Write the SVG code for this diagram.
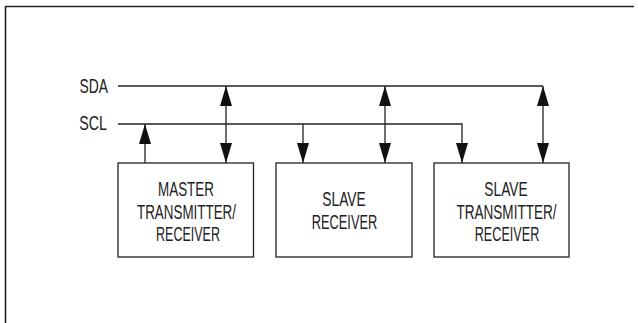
<svg xmlns="http://www.w3.org/2000/svg" width="638" height="323" viewBox="0 0 638 323">
<style>
.frame{fill:none;stroke:#222;stroke-width:1.6}
.box{fill:#fff;stroke:#222;stroke-width:1.3}
.wire{fill:none;stroke:#222;stroke-width:1.3}
.t{font-family:"Liberation Sans Narrow","Liberation Sans",Arial,sans-serif;font-size:21px;fill:#222;text-anchor:middle}
.lbl{text-anchor:end}
</style>
<defs>
<marker id="ah" markerUnits="userSpaceOnUse" markerWidth="20" markerHeight="12" refX="20" refY="6" orient="auto-start-reverse" viewBox="0 0 20 12">
<path d="M0,0 L20,6 L0,12 z" fill="#111"/>
</marker>
</defs>
<rect width="638" height="323" fill="#fff"/>
<path class="frame" d="M5.5,323 V6.5 H634"/>
<g id="labels">
<text class="t lbl" x="108" y="93.3" textLength="28.5" lengthAdjust="spacingAndGlyphs">SDA</text>
<text class="t lbl" x="107" y="130" textLength="27.7" lengthAdjust="spacingAndGlyphs">SCL</text>
</g>
<g id="connectors">
<path class="wire" d="M118,86 H543"/>
<path class="wire" d="M118,124 H462 V163" marker-end="url(#ah)"/>
<line class="wire" x1="145" y1="163" x2="145" y2="124" marker-end="url(#ah)"/>
<line class="wire" x1="226" y1="86" x2="226" y2="163" marker-start="url(#ah)" marker-end="url(#ah)"/>
<line class="wire" x1="303" y1="124" x2="303" y2="163" marker-end="url(#ah)"/>
<line class="wire" x1="385" y1="86" x2="385" y2="163" marker-start="url(#ah)" marker-end="url(#ah)"/>
<line class="wire" x1="543" y1="86" x2="543" y2="163" marker-start="url(#ah)" marker-end="url(#ah)"/>
</g>
<g id="master">
<rect class="box" x="118" y="163" width="135.5" height="94"/>
<text class="t" x="186" y="195.5" textLength="56" lengthAdjust="spacingAndGlyphs">MASTER</text>
<text class="t" x="186.5" y="218.5" textLength="99" lengthAdjust="spacingAndGlyphs">TRANSMITTER/</text>
<text class="t" x="188" y="241" textLength="64" lengthAdjust="spacingAndGlyphs">RECEIVER</text>
</g>
<g id="slave-receiver">
<rect class="box" x="276" y="163" width="136" height="94"/>
<text class="t" x="344" y="206" textLength="43.5" lengthAdjust="spacingAndGlyphs">SLAVE</text>
<text class="t" x="344.5" y="229.3" textLength="65.5" lengthAdjust="spacingAndGlyphs">RECEIVER</text>
</g>
<g id="slave-transceiver">
<rect class="box" x="434" y="163" width="135" height="94"/>
<text class="t" x="506" y="195.5" textLength="43.5" lengthAdjust="spacingAndGlyphs">SLAVE</text>
<text class="t" x="506.5" y="218.5" textLength="100" lengthAdjust="spacingAndGlyphs">TRANSMITTER/</text>
<text class="t" x="507" y="241" textLength="64.5" lengthAdjust="spacingAndGlyphs">RECEIVER</text>
</g>
</svg>
